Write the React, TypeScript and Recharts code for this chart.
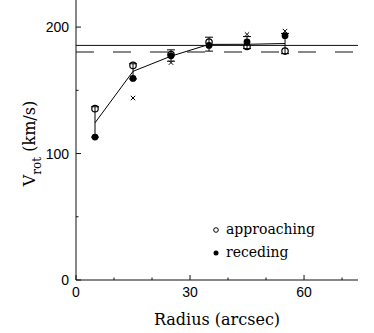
import React from 'react';
import {
  ComposedChart,
  Line,
  Scatter,
  XAxis,
  YAxis,
  ReferenceLine,
  ErrorBar,
  Legend
} from 'recharts';

// values (radius in arcsec, velocity in km/s)
const radius = [5, 15, 25, 35, 45, 55];
const approaching = [135.5, 169.7, 178.3, 188.2, 184.7, 181.0];
const receding = [113.0, 159.4, 177.3, 185.5, 188.2, 193.2];
const meanCurve = [124.3, 165.0, 177.0, 186.3, 186.4, 187.0];
const barLow = [113.0, 159.0, 173.0, 181.0, 183.0, 179.0];
const barHigh = [137.0, 171.0, 182.0, 192.0, 192.5, 195.0];

const crossRadius = [15, 25, 45, 55];
const crossValues = [143.9, 171.9, 194.2, 196.8];

const flatFit = 185.5;
const flatFitDashed = 180.2;

const xTicks = [0, 10, 20, 30, 40, 50, 60, 70];
const xLabelled = [0, 30, 60];
const yTicks = [0, 50, 100, 150, 200];
const yLabelled = [0, 100, 200];

const rows = radius.map((r, i) => ({
  r,
  app: approaching[i],
  rec: receding[i],
  mean: meanCurve[i],
  err: [meanCurve[i] - barLow[i], barHigh[i] - meanCurve[i]]
}));

const crosses = crossRadius.map((r, i) => ({ r, v: crossValues[i] }));

const sans = '"Liberation Sans", Arial, sans-serif';
const serif = '"DejaVu Serif", serif';
const ink = '#111';

const BottomTick = (props: any) => {
  const { x, y, payload } = props;
  const major = xLabelled.includes(payload.value);
  return (
    <g>
      <line x1={x} y1={y} x2={x} y2={y - (major ? 5 : 2.5)} stroke={ink} />
      {major && (
        <text x={x} y={y + 17} textAnchor="middle" fontFamily={sans} fontSize={14} fill="#000">
          {payload.value}
        </text>
      )}
    </g>
  );
};

const TopTick = (props: any) => {
  const { x, y, payload } = props;
  const major = xLabelled.includes(payload.value);
  return <line x1={x} y1={y} x2={x} y2={y + (major ? 5 : 2.5)} stroke={ink} />;
};

const LeftTick = (props: any) => {
  const { x, y, payload } = props;
  const major = yLabelled.includes(payload.value);
  return (
    <g>
      <line x1={x} y1={y} x2={x + (major ? 5 : 2.5)} y2={y} stroke={ink} />
      {major && (
        <text x={x - 7} y={y + 5} textAnchor="end" fontFamily={sans} fontSize={14} fill="#000">
          {payload.value}
        </text>
      )}
    </g>
  );
};

const RightTick = (props: any) => {
  const { x, y, payload } = props;
  const major = yLabelled.includes(payload.value);
  return <line x1={x} y1={y} x2={x - (major ? 5 : 2.5)} y2={y} stroke={ink} />;
};

const OpenDot = (props: any) => (
  <circle cx={props.cx} cy={props.cy} r={3.2} fill="none" stroke="#000" strokeWidth={1.2} />
);

const FilledDot = (props: any) => (
  <circle cx={props.cx} cy={props.cy} r={3.4} fill="#000" />
);

const Cross = (props: any) => {
  const { cx, cy } = props;
  const s = 2.2;
  return (
    <g stroke="#000" strokeWidth={1}>
      <line x1={cx - s} y1={cy - s} x2={cx + s} y2={cy + s} />
      <line x1={cx - s} y1={cy + s} x2={cx + s} y2={cy - s} />
    </g>
  );
};

const YTitle = (props: any) => {
  const { viewBox } = props;
  const cy = viewBox.y + viewBox.height / 2 + 4.5;
  return (
    <text
      transform={`translate(35, ${cy}) rotate(-90)`}
      textAnchor="middle"
      fontFamily={serif}
      fontSize={16}
      fill="#000"
    >
      V
      <tspan dy={6} fontSize={12}>rot</tspan>
      <tspan dy={-6}> (km/s)</tspan>
    </text>
  );
};

const LegendBox = () => (
  <div style={{ fontFamily: serif, fontSize: 14, color: '#000', lineHeight: '23px' }}>
    <div style={{ display: 'flex', alignItems: 'center' }}>
      <svg width={10} height={10} style={{ marginRight: 5 }}>
        <circle cx={5} cy={5} r={2.3} fill="none" stroke="#000" strokeWidth={1} />
      </svg>
      approaching
    </div>
    <div style={{ display: 'flex', alignItems: 'center' }}>
      <svg width={10} height={10} style={{ marginRight: 5 }}>
        <circle cx={5} cy={5} r={2.5} fill="#000" />
      </svg>
      receding
    </div>
  </div>
);

export default function App() {
  return (
    <div style={{ position: 'absolute', left: 0, top: -10, background: '#fff' }}>
      <ComposedChart
        width={374}
        height={343}
        data={rows}
        margin={{ top: 8, right: 16, bottom: 0, left: 0 }}
      >
        <XAxis
          dataKey="r"
          type="number"
          domain={[0, 74.2]}
          ticks={xTicks}
          interval={0}
          allowDataOverflow
          height={53}
          tickSize={0}
          tickMargin={0}
          tickLine={false}
          axisLine={{ stroke: ink }}
          tick={<BottomTick />}
          label={{
            value: 'Radius (arcsec)',
            position: 'insideBottom',
            offset: 8,
            fontFamily: serif,
            fontSize: 16,
            fill: '#000'
          }}
        />
        <XAxis
          xAxisId="top"
          orientation="top"
          dataKey="r"
          type="number"
          domain={[0, 74.2]}
          ticks={xTicks}
          interval={0}
          allowDataOverflow
          height={0}
          tickSize={0}
          tickMargin={0}
          tickLine={false}
          axisLine={{ stroke: ink }}
          tick={<TopTick />}
        />
        <YAxis
          type="number"
          domain={[0, 223]}
          ticks={yTicks}
          interval={0}
          allowDataOverflow
          width={76}
          tickSize={0}
          tickMargin={0}
          tickLine={false}
          axisLine={{ stroke: ink }}
          tick={<LeftTick />}
          label={{ content: <YTitle /> }}
        />
        <YAxis
          yAxisId="right"
          orientation="right"
          type="number"
          domain={[0, 223]}
          ticks={yTicks}
          interval={0}
          allowDataOverflow
          width={0}
          tickSize={0}
          tickMargin={0}
          tickLine={false}
          axisLine={{ stroke: ink }}
          tick={<RightTick />}
        />
        <ReferenceLine y={flatFitDashed} stroke="#888" strokeWidth={2} strokeDasharray="18 19" />
        <ReferenceLine y={flatFit} stroke={ink} strokeWidth={1} />
        <Line
          dataKey="mean"
          type="linear"
          stroke="#000"
          strokeWidth={1}
          dot={false}
          isAnimationActive={false}
          legendType="none"
        >
          <ErrorBar dataKey="err" direction="y" width={4} stroke="#000" strokeWidth={1} />
        </Line>
        <Scatter dataKey="rec" shape={<FilledDot />} isAnimationActive={false} legendType="none" />
        <Scatter dataKey="app" shape={<OpenDot />} isAnimationActive={false} legendType="none" />
        <Scatter
          data={crosses}
          dataKey="v"
          shape={<Cross />}
          isAnimationActive={false}
          legendType="none"
        />
        <Legend
          content={<LegendBox />}
          layout="vertical"
          verticalAlign="middle"
          align="center"
          wrapperStyle={{ position: 'absolute', left: 211, top: 228, width: 'auto' }}
        />
      </ComposedChart>
    </div>
  );
}
